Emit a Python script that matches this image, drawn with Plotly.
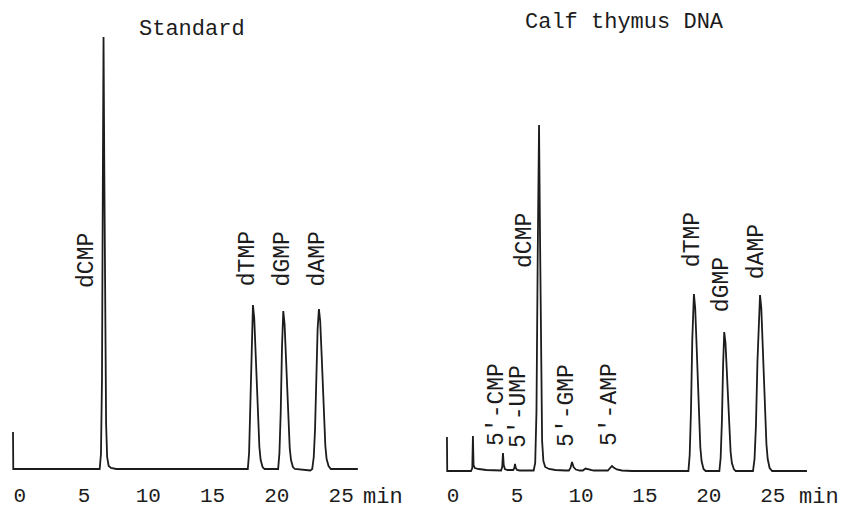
import plotly.graph_objects as go

# ---------------- data (time in min, detector signal in arbitrary units) ----------------
std_time = [-0.52, -0.50, 3.0, 6.22, 6.32, 6.40, 6.46, 6.52, 6.58, 6.64, 6.72, 6.80, 6.92, 7.1, 7.5,
            12.0, 17.74, 17.84, 17.94, 18.04, 18.14, 18.24, 18.34, 18.44, 18.54, 18.64, 18.74, 18.89, 19.04,
            20.10, 20.20, 20.30, 20.40, 20.50, 20.60, 20.70, 20.80, 20.90, 21.00, 21.10, 21.25, 21.40,
            22.3, 22.6, 22.75, 22.87, 22.97, 23.07, 23.17, 23.27, 23.37, 23.47, 23.57, 23.67, 23.77,
            23.87, 24.02, 24.2, 26.3]
std_signal = [37, 0, 0, 0, 15, 90, 270, 432, 300, 140, 45, 12, 3, 1, 0,
              0, 0, 16, 59, 126, 164, 151, 120, 80, 46, 22, 9, 2, 0,
              0, 16, 57, 122, 158, 145, 115, 77, 44, 21, 9, 2, 0,
              -1, -1.5, 0, 12, 40, 90, 140, 160, 148, 118, 80, 47, 23,
              10, 3, 0, 0]

dna_time = [-0.48, -0.46, 1.40, 1.50, 1.55, 1.60, 1.70, 2.0, 2.6, 3.6,
            3.75, 3.84, 3.90, 3.96, 4.05, 4.25,
            4.70, 4.79, 4.84, 4.90, 5.0, 5.2,
            6.30, 6.42, 6.52, 6.62, 6.72, 6.80, 6.88, 6.96, 7.06, 7.2, 7.5, 8.0, 8.8,
            9.05, 9.18, 9.30, 9.42, 9.6, 9.9,
            10.15, 10.35, 10.6, 11.0,
            12.1, 12.3, 12.42, 12.55, 12.8, 13.2, 14.0,
            18.40, 18.50, 18.60, 18.70, 18.83, 18.93, 19.03, 19.13, 19.23, 19.33, 19.43, 19.58, 19.75,
            20.82, 20.92, 21.02, 21.11, 21.20, 21.30, 21.40, 21.50, 21.60, 21.70, 21.80, 21.95, 22.1,
            23.45, 23.57, 23.68, 23.80, 23.90, 24.00, 24.10, 24.20, 24.30, 24.40, 24.50, 24.60, 24.75,
            24.95, 27.67]
dna_signal = [34, 0, 0, 3, 35, 6, 3, 2, 1, 0.5,
              0.5, 4, 18, 6, 2, 1,
              1, 3, 7, 3, 1, 0.5,
              0.5, 8, 60, 220, 346, 230, 90, 30, 10, 4, 2, 1, 0.5,
              0.5, 3, 9, 4, 1.5, 0.5,
              0.5, 2.5, 1.5, 0.5,
              0.5, 3, 5, 3.5, 1.5, 0.5, 0,
              0, 16, 60, 130, 177, 163, 129, 87, 50, 24, 10, 2, 0,
              0, 13, 50, 105, 139, 128, 101, 68, 39, 19, 8, 2, 0,
              0, 12, 45, 110, 155, 176, 163, 130, 90, 53, 27, 12, 3,
              0, 0]

tick_vals = [0, 5, 10, 15, 20, 25]
tick_text = ["0", "5", "10", "15", "20", "25"]

std_labels = ["dCMP", "dTMP", "dGMP", "dAMP"]
dna_labels = ["5'-CMP", "5'-UMP", "dCMP", "5'-GMP", "5'-AMP", "dTMP", "dGMP", "dAMP"]

std_title = "Standard"
dna_title = "Calf thymus DNA"
unit = "min"

# ---------------- layout helpers ----------------
FONT = "Liberation Mono"
INK = "#1c1c1c"

# label anchor positions (time, signal) for each label
std_label_pos = [(5.23, 209), (17.77, 210), (20.51, 210), (23.23, 210)]
dna_label_pos = [(3.43, 67), (5.15, 65), (5.62, 231), (8.90, 66), (12.27, 66),
                 (18.77, 231), (21.04, 186), (23.78, 219)]

fig = go.Figure()
fig.add_trace(go.Scatter(x=std_time, y=std_signal, mode="lines",
                         line=dict(color=INK, width=1.8), xaxis="x", yaxis="y",
                         hoverinfo="skip", showlegend=False))
fig.add_trace(go.Scatter(x=dna_time, y=dna_signal, mode="lines",
                         line=dict(color=INK, width=1.8), xaxis="x2", yaxis="y2",
                         hoverinfo="skip", showlegend=False))

LBL = dict(family=FONT, size=23, color=INK)
annotations = []
for txt, (tx, ty) in zip(std_labels, std_label_pos):
    annotations.append(dict(x=tx, y=ty, xref="x", yref="y", text=txt, showarrow=False,
                            textangle=-90, font=LBL, xanchor="center", yanchor="middle"))
for txt, (tx, ty) in zip(dna_labels, dna_label_pos):
    annotations.append(dict(x=tx, y=ty, xref="x2", yref="y2", text=txt, showarrow=False,
                            textangle=-90, font=LBL, xanchor="center", yanchor="middle"))

TTL = dict(family=FONT, size=22, color=INK)
annotations.append(dict(x=0.228, y=0.937, xref="paper", yref="paper", text=std_title,
                        showarrow=False, font=TTL, xanchor="center", yanchor="middle"))
annotations.append(dict(x=0.7417, y=0.9517, xref="paper", yref="paper", text=dna_title,
                        showarrow=False, font=TTL, xanchor="center", yanchor="middle"))
annotations.append(dict(x=28.25, y=-0.046, xref="x", yref="paper", text=unit,
                        showarrow=False, font=TTL, xanchor="center", yanchor="middle"))
annotations.append(dict(x=28.6, y=-0.046, xref="x2", yref="paper", text=unit,
                        showarrow=False, font=TTL, xanchor="center", yanchor="middle"))

axis_common = dict(showgrid=False, zeroline=False, showline=False, ticks="",
                   tickmode="array", tickvals=tick_vals, ticktext=tick_text,
                   tickfont=dict(family=FONT, size=21, color=INK), fixedrange=True,
                   ticklabelstandoff=4)

fig.update_layout(
    width=842, height=511,
    margin=dict(l=0, r=0, t=0, b=35, autoexpand=False),
    paper_bgcolor="white", plot_bgcolor="white",
    xaxis=dict(domain=[0, 0.5], range=[-1.532, 31.21], anchor="y", **axis_common),
    xaxis2=dict(domain=[0.5, 1], range=[-2.51, 30.41], anchor="y2", **axis_common),
    yaxis=dict(range=[-7, 469], visible=False, anchor="x", fixedrange=True),
    yaxis2=dict(range=[-5, 471], visible=False, anchor="x2", fixedrange=True),
    annotations=annotations,
)

fig.write_html("out.html", config={"displayModeBar": False},
               post_script="document.body.style.margin='0';document.body.style.overflow='hidden';")
